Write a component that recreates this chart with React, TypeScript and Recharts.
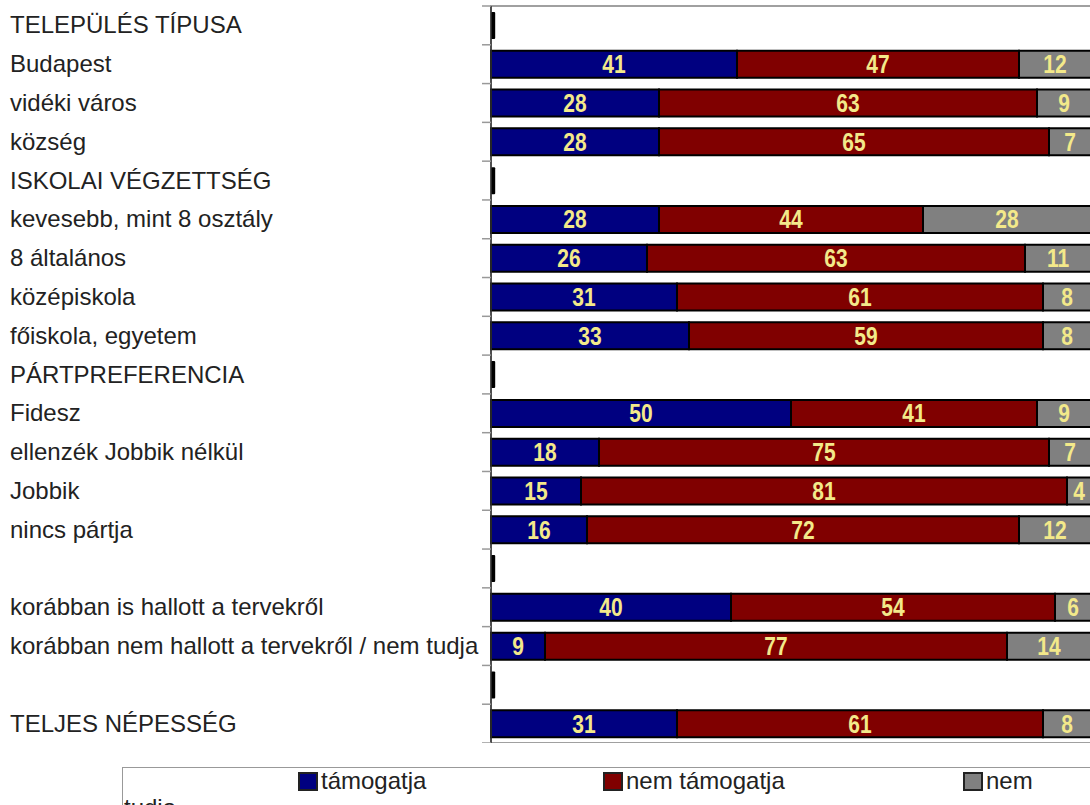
import React from "react";
import {
  BarChart,
  Bar,
  XAxis,
  YAxis,
  CartesianGrid,
  LabelList,
  ReferenceArea,
} from "recharts";

const categories = [
  "TELEPÜLÉS TÍPUSA",
  "Budapest",
  "vidéki város",
  "község",
  "ISKOLAI VÉGZETTSÉG",
  "kevesebb, mint 8 osztály",
  "8 általános",
  "középiskola",
  "főiskola, egyetem",
  "PÁRTPREFERENCIA",
  "Fidesz",
  "ellenzék Jobbik nélkül",
  "Jobbik",
  "nincs pártja",
  "",
  "korábban is hallott a tervekről",
  "korábban nem hallott a tervekről / nem tudja",
  " ",
  "TELJES NÉPESSÉG",
];

const support = [null, 41, 28, 28, null, 28, 26, 31, 33, null, 50, 18, 15, 16, null, 40, 9, null, 31];
const oppose = [null, 47, 63, 65, null, 44, 63, 61, 59, null, 41, 75, 81, 72, null, 54, 77, null, 61];
const dunno = [null, 12, 9, 7, null, 28, 11, 8, 8, null, 9, 7, 4, 12, null, 6, 14, null, 8];
const headerMarks = [0.7, null, null, null, 0.7, null, null, null, null, 0.7, null, null, null, null, 0.7, null, null, 0.7, null];

const seriesNames = ["támogatja", "nem támogatja", "nem"];
const legendOverflow = "tudja";
const xTicks = [0, 20, 40, 60, 80, 100];

const data = categories.map((c, i) => ({
  cat: c,
  mark: headerMarks[i],
  support: support[i],
  oppose: oppose[i],
  dunno: dunno[i],
}));

const COLORS = ["#000080", "#800000", "#808080"];
const LABEL_COLOR = "#F3E98A";
const SANS = "'Liberation Sans', Arial, sans-serif";

const CHART_W = 1100;
const CHART_H = 743;
const MARGIN = { top: 6, right: 9, bottom: 0, left: 0 };
const AXIS_W = 491;
const BAND = (CHART_H - MARGIN.top - MARGIN.bottom) / categories.length;

const CatTick = (props: any) => {
  const { y, payload, index } = props;
  const isLast = index === categories.length - 1;
  return (
    <g>
      <line x1={AXIS_W - 9} x2={AXIS_W} y1={y - BAND / 2} y2={y - BAND / 2} stroke="#999" strokeWidth={1.5} />
      {isLast && (
        <line x1={AXIS_W - 9} x2={AXIS_W} y1={y + BAND / 2} y2={y + BAND / 2} stroke="#999" strokeWidth={1.5} />
      )}
      <text x={10} y={y} dy={8} textAnchor="start" fontSize={24} fill="#222" fontFamily={SANS}>
        {payload.value}
      </text>
    </g>
  );
};

const NarrowLabel = (props: any) => {
  const { x, y, width, height, value } = props;
  if (value === null || value === undefined) return null;
  const cx = Number(x) + Number(width) / 2;
  const cy = Number(y) + Number(height) / 2;
  return (
    <g transform={`translate(${cx} ${cy}) scale(0.84 1)`}>
      <text
        x={0}
        y={0}
        dy={9}
        textAnchor="middle"
        fill={LABEL_COLOR}
        fontSize={25}
        fontWeight="bold"
        fontFamily={SANS}
      >
        {value}
      </text>
    </g>
  );
};

const legendLeft = [175, 480, 840];

export default function App() {
  const keys = ["support", "oppose", "dunno"];
  return (
    <div style={{ position: "absolute", left: 0, top: 0, width: 1090, height: 805, background: "#fff", overflow: "hidden" }}>
      <BarChart
        width={CHART_W}
        height={CHART_H}
        data={data}
        layout="vertical"
        margin={MARGIN}
        barSize={27}
        barCategoryGap={0}
      >
        <CartesianGrid horizontal={false} vertical stroke="#c8c8c8" strokeDasharray="2 2" />
        <XAxis
          type="number"
          domain={[0, 100]}
          ticks={xTicks}
          tick={false}
          axisLine={false}
          tickLine={false}
          height={0}
        />
        <YAxis
          type="category"
          dataKey="cat"
          width={AXIS_W}
          tick={<CatTick />}
          tickLine={false}
          axisLine={{ stroke: "#333", strokeWidth: 1.5 }}
          interval={0}
        />
        <ReferenceArea x1={0} x2={100} fill="none" stroke="#a0a0a0" strokeWidth={2} />
        <Bar dataKey="mark" stackId="s" fill="#000" isAnimationActive={false} radius={1} />
        {keys.map((k, i) => (
          <Bar
            key={k}
            dataKey={k}
            name={seriesNames[i]}
            stackId="s"
            fill={COLORS[i]}
            stroke="#000"
            strokeWidth={2}
            isAnimationActive={false}
          >
            <LabelList dataKey={k} content={<NarrowLabel />} />
          </Bar>
        ))}
      </BarChart>
      <div
        style={{
          position: "absolute",
          left: 122,
          top: 767,
          width: 1000,
          height: 80,
          border: "1.5px solid #999",
          boxSizing: "border-box",
          fontFamily: SANS,
          fontSize: 24,
          color: "#222",
        }}
      >
        {seriesNames.map((n, i) => (
          <div
            key={n}
            style={{
              position: "absolute",
              left: legendLeft[i],
              top: -1,
              display: "flex",
              alignItems: "center",
              whiteSpace: "nowrap",
              lineHeight: "28px",
            }}
          >
            <span
              style={{
                display: "inline-block",
                width: 20,
                height: 19,
                background: COLORS[i],
                border: "2px solid #222",
                boxSizing: "border-box",
                marginRight: 3,
              }}
            />
            <span>{n}</span>
          </div>
        ))}
        <div style={{ position: "absolute", left: 1, top: 26, lineHeight: "28px" }}>{legendOverflow}</div>
      </div>
    </div>
  );
}
